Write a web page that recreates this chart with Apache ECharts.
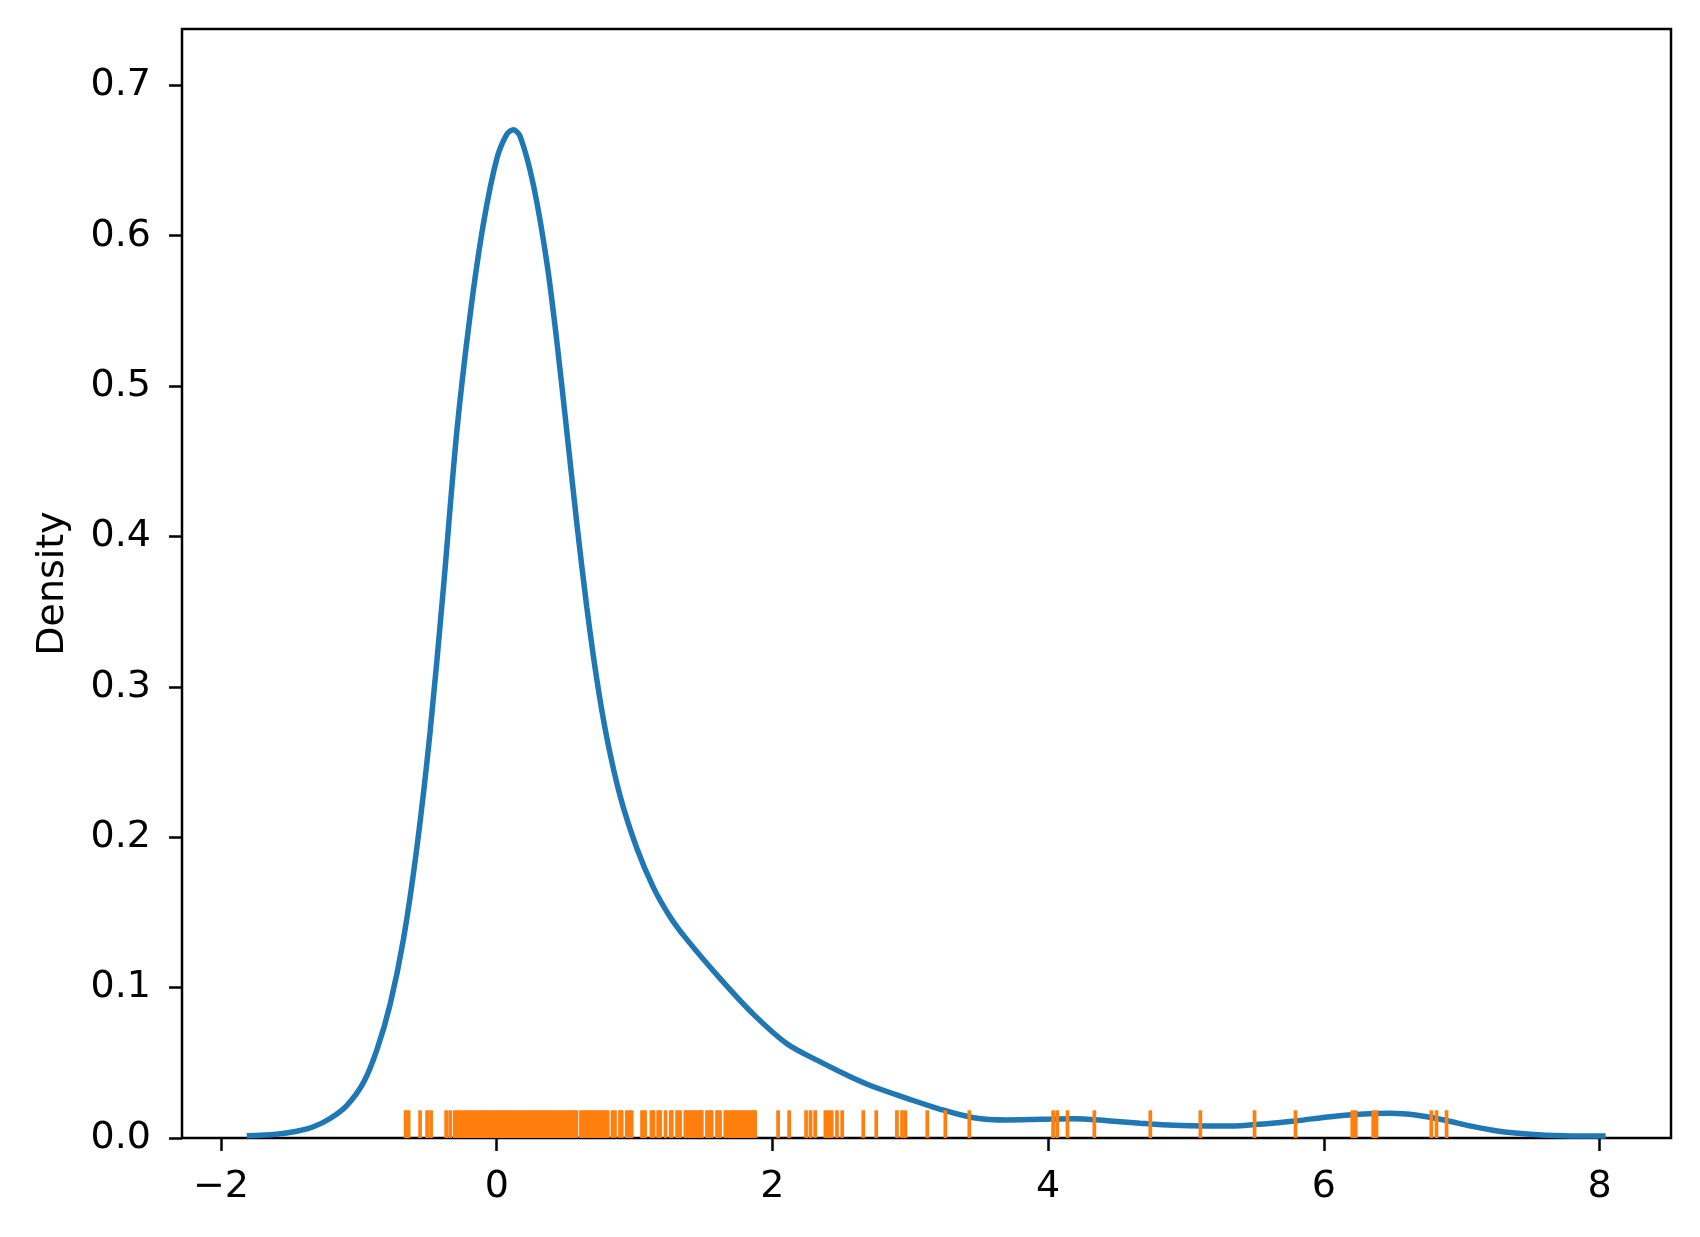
<!DOCTYPE html>
<html>
<head>
<meta charset="utf-8">
<title>Density</title>
<script src="https://cdn.jsdelivr.net/npm/echarts@6/dist/echarts.min.js"></script>
<style>
  html, body { margin: 0; padding: 0; background: #fff; }
  #chart { width: 1700px; height: 1237px; }
</style>
</head>
<body>
<div id="chart"></div>
<script>
// KDE curve
const kdeX = [-1.813, -1.60, -1.451, -1.33, -1.209, -1.088, -0.967, -0.870, -0.774, -0.677, -0.580,
  -0.483, -0.387, -0.290, -0.193, -0.097, 0.000, 0.073, 0.121, 0.170, 0.266,
  0.364, 0.436, 0.509, 0.581, 0.654, 0.726, 0.799, 0.896, 1.017, 1.137,
  1.258, 1.380, 1.621, 1.863, 2.105, 2.347, 2.565, 2.734, 2.976, 3.218,
  3.459, 3.702, 3.943, 4.185, 4.427, 4.669, 4.911, 5.153, 5.395, 5.564,
  5.806, 6.048, 6.290, 6.483, 6.677, 6.870, 7.064, 7.258, 7.499, 7.741, 8.044]
const kdeY = [0.0015, 0.0025, 0.0045, 0.0075, 0.013, 0.0216, 0.0368, 0.0584, 0.0886, 0.132, 0.1925,
  0.2703, 0.3654, 0.4693, 0.5472, 0.6077, 0.651, 0.6674, 0.6704, 0.666, 0.6337,
  0.5818, 0.5298, 0.4693, 0.4087, 0.3525, 0.3049, 0.266, 0.2271, 0.1925, 0.1665,
  0.147, 0.1319, 0.106, 0.0822, 0.0627, 0.0506, 0.0408, 0.0341, 0.0264, 0.0191,
  0.0135, 0.012, 0.0124, 0.0128, 0.0115, 0.0098, 0.0084, 0.008, 0.0082, 0.0093,
  0.0115, 0.0142, 0.016, 0.0164, 0.0151, 0.012, 0.008, 0.0047, 0.0025, 0.0015, 0.0013]

// rug observations (estimated, dense parts approximated)
const rugValues = [-0.661, -0.639, -0.556, -0.505, -0.476, -0.367, -0.338,
  -0.305, -0.287, -0.268, -0.245, -0.226, -0.210, -0.188, -0.171, -0.150, -0.133,
  -0.112, -0.095, -0.074, -0.058, -0.036, -0.019, 0.003, 0.021, 0.040, 0.056,
  0.078, 0.095, 0.114, 0.132, 0.151, 0.169, 0.190, 0.207, 0.226, 0.244,
  0.263, 0.281, 0.300, 0.318, 0.339, 0.356, 0.375, 0.393, 0.412, 0.430,
  0.451, 0.469, 0.488, 0.506, 0.527, 0.545, 0.563, 0.578,
  0.611, 0.630, 0.652, 0.671, 0.690, 0.712, 0.731, 0.750, 0.769, 0.788, 0.805,
  0.840, 0.858, 0.894, 0.907, 0.943, 0.962, 0.979, 1.054, 1.076, 1.122, 1.137,
  1.171, 1.185, 1.224, 1.262, 1.270, 1.308, 1.330,
  1.368, 1.386, 1.404, 1.421, 1.440, 1.458, 1.475, 1.488, 1.525, 1.548, 1.560,
  1.598, 1.620, 1.658, 1.677, 1.696, 1.715, 1.734, 1.752, 1.771, 1.790, 1.808,
  1.828, 1.846, 1.864, 1.875, 2.041, 2.121, 2.244, 2.276, 2.310, 2.384, 2.407,
  2.430, 2.468, 2.506, 2.659, 2.753, 2.903, 2.940, 2.965, 3.123, 3.254, 3.428,
  4.036, 4.066, 4.140, 4.335, 4.741, 5.104, 5.497, 5.794, 6.206, 6.231, 6.358,
  6.382, 6.779, 6.817, 6.890]

const xTicks = [-2, 0, 2, 4, 6, 8]
const yTicks = [0, 0.1, 0.2, 0.3, 0.4, 0.5, 0.6, 0.7]

const xMin = -2.283, xMax = 8.518
const yMin = 0, yMax = 0.7374
const rugHeight = 0.025 * yMax // seaborn rug height, axes fraction

const font = 'DejaVu Sans'

let chart = echarts.init(document.getElementById('chart'))
let option = {
  animation: false,
  backgroundColor: '#fff',
  grid: {
    left: 182, right: 29, top: 29, bottom: 99,
    show: true, borderColor: '#000', borderWidth: 2.5
  },
  xAxis: {
    type: 'value', min: xMin, max: xMax,
    axisLine: { show: false, onZero: false },
    splitLine: { show: false },
    axisTick: { show: true, length: 13, customValues: xTicks, lineStyle: { color: '#000', width: 2.5 } },
    axisLabel: {
      customValues: xTicks, margin: 30, color: '#000', fontFamily: font, fontSize: 38,
      formatter: v => v < 0 ? '\u2212' + Math.abs(v) : String(v)
    }
  },
  yAxis: {
    type: 'value', min: yMin, max: yMax,
    name: 'Density', nameLocation: 'middle', nameGap: 110,
    nameTextStyle: { color: '#000', fontFamily: font, fontSize: 38 },
    axisLine: { show: false, onZero: false },
    splitLine: { show: false },
    axisTick: { show: true, length: 13, customValues: yTicks, lineStyle: { color: '#000', width: 2.5 } },
    axisLabel: {
      customValues: yTicks, margin: 31, color: '#000', fontFamily: font, fontSize: 38,
      formatter: v => v.toFixed(1)
    }
  },
  series: [
    {
      type: 'line',
      data: kdeX.map((x, i) => [x, kdeY[i]]),
      showSymbol: false,
      smooth: 0.3,
      lineStyle: { color: '#1f77b4', width: 5.5 },
      z: 2
    },
    {
      type: 'custom',
      data: rugValues.map(v => [v, 0]),
      encode: { x: 0, y: 1 },
      renderItem: function (params, api) {
        let x = api.value(0)
        let p0 = api.coord([x, 0])
        let p1 = api.coord([x, rugHeight])
        return {
          type: 'line',
          shape: { x1: p0[0], y1: p0[1], x2: p1[0], y2: p1[1] },
          style: { stroke: '#ff7f0e', lineWidth: 3.7 }
        }
      },
      z: 3
    }
  ]
}
chart.setOption(option)
</script>
</body>
</html>
